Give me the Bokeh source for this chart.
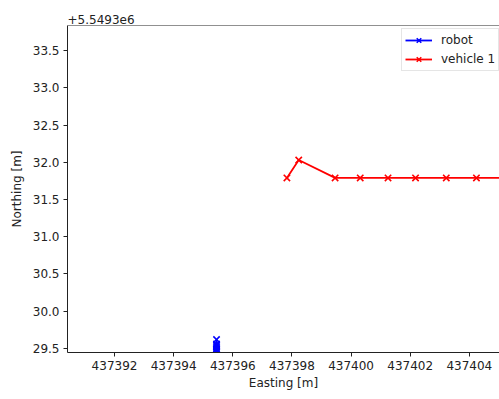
from bokeh.plotting import figure
from bokeh.models import FixedTicker, PrintfTickFormatter, Span, Range1d, Legend, LegendItem
from bokeh.embed import file_html
from bokeh.resources import INLINE

# Data (northing given relative to the offset +5.5493e6)
northing_offset = 5549300
robot_easting = [437395.45, 437395.45, 437395.45, 437395.45, 437395.45, 437395.45,
                 437395.45, 437395.45, 437395.45, 437395.45]
robot_northing = [29.62, 29.56, 29.54, 29.52, 29.50, 29.49, 29.48, 29.47, 29.46, 29.45]
veh_easting = [437397.83, 437398.23, 437399.46, 437400.31, 437401.25, 437402.18,
               437403.22, 437404.24, 437405.25]
veh_northing = [31.79, 32.03, 31.79, 31.79, 31.79, 31.79, 31.79, 31.79, 31.79]

x_ticks = [437392, 437394, 437396, 437398, 437400, 437402, 437404]
y_ticks = [29.5, 30.0, 30.5, 31.0, 31.5, 32.0, 32.5, 33.0, 33.5]

FONT = "DejaVu Sans"
FS = "12px"

p = figure(width=499, height=399, output_backend="svg", toolbar_location=None,
           x_range=Range1d(437390.41, 437405.02), y_range=Range1d(29.446, 33.836),
           min_border_left=67, min_border_right=0, min_border_top=25, min_border_bottom=47)
p.outline_line_color = None
p.grid.visible = False
p.background_fill_color = "white"
p.border_fill_color = "white"

p.title.text = "+5.5493e6"
p.title.text_font = FONT
p.title.text_font_size = FS
p.title.text_font_style = "normal"
p.title.text_color = "#222222"
p.title.align = "left"
p.title.standoff = 4

for ax in (p.xaxis[0], p.yaxis[0]):
    ax.axis_line_color = "#222222"
    ax.axis_line_width = 1
    ax.major_tick_line_color = "#222222"
    ax.major_tick_out = 4
    ax.major_tick_in = 0
    ax.minor_tick_line_color = None
    ax.major_label_text_font = FONT
    ax.major_label_text_font_size = FS
    ax.major_label_text_color = "#222222"
    ax.major_label_standoff = 4
    ax.axis_label_text_font = FONT
    ax.axis_label_text_font_size = FS
    ax.axis_label_text_font_style = "normal"
    ax.axis_label_text_color = "#222222"

p.xaxis.ticker = FixedTicker(ticks=x_ticks)
p.xaxis.formatter = PrintfTickFormatter(format="%d")
p.yaxis.ticker = FixedTicker(ticks=y_ticks)
p.yaxis.formatter = PrintfTickFormatter(format="%.1f")
p.xaxis.axis_label = "Easting [m]"
p.yaxis.axis_label = "Northing [m]"
p.xaxis.axis_label_standoff = 3
p.yaxis.axis_label_standoff = 6

top = Span(location=33.836, dimension="width", line_color="#222222", line_width=1)
p.add_layout(top)

r1 = p.line(robot_easting, robot_northing, line_color="blue", line_width=1.8)
s1 = p.scatter(robot_easting, robot_northing, marker="x", size=9, line_color="blue", line_width=1.6)
r2 = p.line(veh_easting, veh_northing, line_color="red", line_width=1.8)
s2 = p.scatter(veh_easting, veh_northing, marker="x", size=9, line_color="red", line_width=1.6)

legend = Legend(items=[LegendItem(label="robot", renderers=[r1, s1]),
                       LegendItem(label="vehicle 1", renderers=[r2, s2])],
                location=(334, 281))
legend.label_text_font = FONT
legend.label_text_font_size = FS
legend.label_text_color = "#222222"
legend.border_line_color = "#cccccc"
legend.background_fill_alpha = 0.8
legend.padding = 3
legend.spacing = 3
legend.glyph_width = 27
legend.glyph_height = 16
legend.label_height = 16
legend.label_standoff = 9
legend.margin = 0
p.add_layout(legend, "center")

open("out.html", "w").write(file_html(p, INLINE))
